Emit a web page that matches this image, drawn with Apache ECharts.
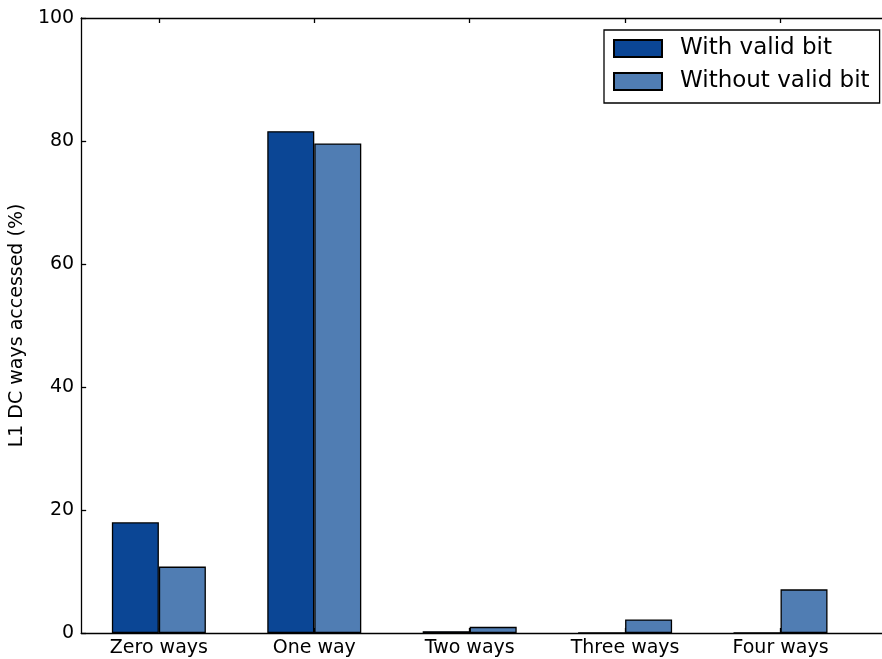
<!DOCTYPE html>
<html>
<head>
<meta charset="utf-8">
<script src="https://cdn.jsdelivr.net/npm/echarts@6/dist/echarts.min.js"></script>
<style>
  html, body { margin: 0; padding: 0; background: #fff; }
  #chart { width: 882px; height: 659px; }
</style>
</head>
<body>
<div id="chart"></div>
<script>
// Share of L1 data-cache accesses by number of ways probed
const categories = ['Zero ways', 'One way', 'Two ways', 'Three ways', 'Four ways'];
const withValidBit = [18.0, 81.6, 0.3, 0, 0];
const withoutValidBit = [10.8, 79.6, 1.0, 2.2, 7.1];
const yTicks = [0, 20, 40, 60, 80, 100];

const FONT = 'DejaVu Sans';
const positions = categories.map((_, i) => i);
const X_MIN = -0.5;
const X_MAX = 4.653;

const chart = echarts.init(document.getElementById('chart'), null, { renderer: 'canvas' });

const axisLineStyle = { color: '#000', width: 1.3 };

chart.setOption({
  animation: false,
  backgroundColor: '#fff',
  grid: { left: 78, top: 18, right: 0, bottom: 26, containLabel: false },
  legend: {
    orient: 'vertical',
    left: 604,
    top: 30,
    padding: [7, 10, 10, 9],
    itemWidth: 48,
    itemHeight: 17,
    itemGap: 10,
    borderColor: '#000',
    borderWidth: 1.3,
    borderRadius: 0,
    backgroundColor: '#fff',
    icon: 'rect',
    textStyle: { fontFamily: FONT, fontSize: 23, color: '#000', padding: [0, 0, 0, 13] },
    data: ['With valid bit', 'Without valid bit']
  },
  xAxis: [
    {
      type: 'value',
      position: 'bottom',
      min: X_MIN,
      max: X_MAX,
      splitLine: { show: false },
      axisLine: { show: true, onZero: false, lineStyle: axisLineStyle },
      axisTick: { show: true, inside: true, length: 5, customValues: positions, lineStyle: axisLineStyle },
      axisLabel: {
        customValues: positions,
        formatter: v => categories[Math.round(v)],
        fontFamily: FONT, fontSize: 19, color: '#000', margin: 6
      }
    },
    {
      type: 'value',
      position: 'top',
      min: X_MIN,
      max: X_MAX,
      splitLine: { show: false },
      axisLine: { show: true, onZero: false, lineStyle: axisLineStyle },
      axisTick: { show: true, inside: true, length: 5, customValues: positions, lineStyle: axisLineStyle },
      axisLabel: { show: false }
    }
  ],
  yAxis: {
    type: 'value',
    min: 0,
    max: 100,
    interval: 20,
    name: 'L1 DC ways accessed (%)',
    nameLocation: 'middle',
    nameGap: 51,
    nameTextStyle: { fontFamily: FONT, fontSize: 19, color: '#000' },
    splitLine: { show: false },
    axisLine: { show: true, onZero: false, lineStyle: axisLineStyle },
    axisTick: { show: true, inside: true, length: 5, lineStyle: axisLineStyle },
    axisLabel: {
      fontFamily: FONT, fontSize: 19, color: '#000', margin: 7,
      customValues: yTicks
    }
  },
  series: [
    {
      name: 'With valid bit',
      type: 'bar',
      xAxisIndex: 0,
      barWidth: 47,
      barGap: '0%',
      itemStyle: { color: '#0b4695', borderColor: '#000', borderWidth: 1.3 },
      data: withValidBit.map((v, i) => [positions[i], v])
    },
    {
      name: 'Without valid bit',
      type: 'bar',
      xAxisIndex: 0,
      barWidth: 47,
      barGap: '0%',
      itemStyle: { color: '#507db3', borderColor: '#000', borderWidth: 1.3 },
      data: withoutValidBit.map((v, i) => [positions[i], v])
    }
  ]
});
</script>
</body>
</html>
